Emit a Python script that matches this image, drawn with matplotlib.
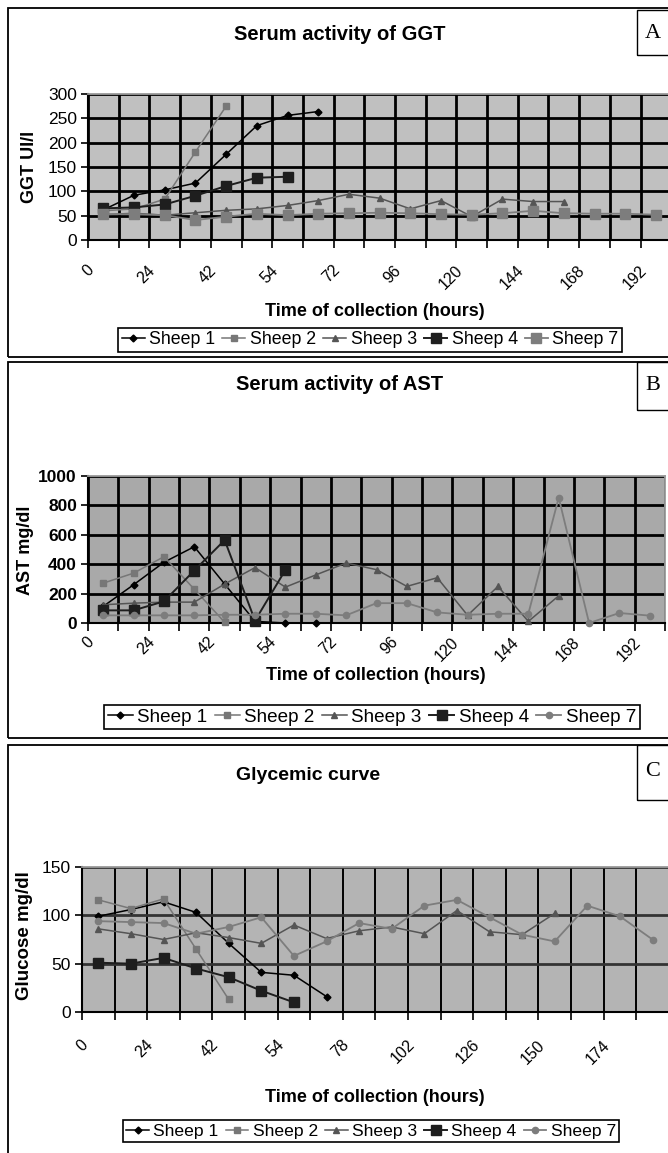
import numpy as np
import matplotlib.pyplot as plt
from matplotlib.patches import Rectangle

W, H = 668, 1153

# time of collection (hours), one per category of the x axis
hours_ab = [0, 12, 24, 36, 42, 48, 54, 60, 72, 84, 96, 108, 120, 132, 144, 156, 168, 180, 192]
hours_c = [0, 12, 24, 36, 42, 48, 54, 66, 78, 90, 102, 114, 126, 138, 150, 162, 174, 186]

sheep = ["Sheep 1", "Sheep 2", "Sheep 3", "Sheep 4", "Sheep 7"]

# GGT UI/l
ggt_s1 = [62, 92, 103, 117, 176, 235, 256, 264]
ggt_s2 = [60, 64, 84, 181, 275]
ggt_s3 = [52, 55, 51, 56, 61, 64, 71, 81, 94, 86, 64, 81, 48, 84, 79, 79]
ggt_s4 = [65, 67, 73, 91, 111, 128, 130]
ggt_s7 = [53, 53, 51, 41, 48, 54, 51, 54, 55, 56, 55, 53, 52, 55, 60, 55, 54, 54, 52]

# AST mg/dl
ast_s1 = [113, 260, 413, 519, 265, 11, 0, 0]
ast_s2 = [271, 339, 451, 230, 5]
ast_s3 = [124, 135, 142, 142, 265, 377, 244, 327, 408, 363, 249, 308, 52, 249, 11, 185]
ast_s4 = [86, 86, 147, 357, 564, 16, 361]
ast_s7 = [52, 52, 52, 52, 56, 56, 63, 63, 52, 135, 135, 72, 56, 63, 63, 853, 0, 68, 50]

# glucose mg/dl
glu_s1 = [99, 106, 114, 103, 71, 41, 38, 16]
glu_s2 = [116, 107, 117, 65, 13]
glu_s3 = [86, 81, 75, 82, 77, 71, 90, 76, 84, 88, 81, 105, 83, 80, 102]
glu_s4 = [51, 50, 56, 45, 36, 22, 10]
glu_s7 = [94, 93, 92, 81, 88, 98, 58, 73, 92, 86, 110, 116, 98, 80, 73, 110, 99, 75]

plt.rcParams['font.family'] = ['Liberation Sans', 'DejaVu Sans']

fig = plt.figure(figsize=(W / 100, H / 100), dpi=100)


def px_axes(x0, y0, x1, y1):
    return fig.add_axes([x0 / W, 1 - y1 / H, (x1 - x0) / W, (y1 - y0) / H])


def px_text(x, y, s, **kw):
    fig.text(x / W, 1 - y / H, s, ha='center', va='center', **kw)


def px_box(x0, y0, x1, y1, lw=1.3):
    fig.add_artist(Rectangle((x0 / W, 1 - y1 / H), (x1 - x0) / W, (y1 - y0) / H,
                             transform=fig.transFigure, fill=False, ec='black', lw=lw))


def px_legend(ax, cx, cy, size):
    h, l = ax.get_legend_handles_labels()
    leg = fig.legend(h, l, loc='center', bbox_to_anchor=(cx / W, 1 - cy / H), ncol=5,
                     fancybox=False, edgecolor='black', framealpha=1, handlelength=1.3,
                     handletextpad=0.25, columnspacing=0.4, borderpad=0.2,
                     fontsize=size)
    leg.get_frame().set_linewidth(1.2)


def styles(s7_marker, s7_ms):
    return [
        dict(color='black', marker='D', ms=3.5, lw=1.1),
        dict(color='#777777', marker='s', ms=4, lw=1.1),
        dict(color='#555555', marker='^', ms=5, lw=1.1),
        dict(color='#1e1e1e', marker='s', ms=7, lw=1.4),
        dict(color='#7d7d7d', marker=s7_marker, ms=s7_ms, lw=1.3),
    ]


def panel(box, hours, series, st, ymax, ystep, bg, ybold, hgrid, vgrid, lpad):
    ax = px_axes(*box)
    n = len(hours)
    ax.set_facecolor(bg)
    for name, vals, s in zip(sheep, series, st):
        ax.plot(range(len(vals)), vals, label=name, zorder=3, clip_on=False, **s)
    ax.set_xlim(-0.5, n - 0.5)
    ax.set_ylim(0, ymax)
    ax.set_yticks(np.arange(0, ymax + 1, ystep))
    ax.set_xticks(np.arange(n + 1) - 0.5)
    ax.set_xticklabels([])
    ax.set_xticks(np.arange(0, n, 2) - 0.38, minor=True)
    ax.set_xticklabels([str(h) for h in hours[::2]], minor=True, rotation=45,
                       ha='right', va='center', rotation_mode='anchor', fontsize=11.5)
    ax.tick_params(axis='x', which='major', length=6, width=1.2, direction='out')
    ax.tick_params(axis='x', which='minor', length=0, pad=lpad)
    ax.tick_params(axis='y', length=5, width=1.2, direction='out', pad=3,
                   labelsize=12.5)
    for lab in ax.get_yticklabels():
        lab.set_fontweight('bold' if ybold else 'normal')
    ax.set_axisbelow(True)
    ax.xaxis.grid(True, which='major', color='black', lw=vgrid)
    ax.yaxis.grid(True, color=hgrid[0], lw=hgrid[1])
    for side in ['left', 'bottom']:
        ax.spines[side].set_color('black')
        ax.spines[side].set_linewidth(1.5)
    for side in ['top', 'right']:
        ax.spines[side].set_color('#9a9a9a')
        ax.spines[side].set_linewidth(1.3)
    return ax


# ---- panel A
px_box(8, 8, 690, 357)
px_box(637, 10, 690, 55, lw=1.0)
px_text(653, 33, "A", fontsize=16, family='Liberation Serif')
px_text(340, 34, "Serum activity of GGT", fontsize=14.5, fontweight='bold')
axA = panel((88, 94, 88 + 19 * 30.7, 240), hours_ab,
            [ggt_s1, ggt_s2, ggt_s3, ggt_s4, ggt_s7], styles('s', 7),
            300, 50, '#c0c0c0', False, ('black', 2), 2, 20)
px_text(29, 167, "GGT UI/l", fontsize=13, fontweight='bold', rotation=90)
px_text(375, 311, "Time of collection (hours)", fontsize=13, fontweight='bold')
px_legend(axA, 370, 340, 12.8)

# ---- panel B
px_box(8, 362, 690, 738)
px_box(637, 362, 690, 410, lw=1.0)
px_text(653, 385, "B", fontsize=16, family='Liberation Serif')
px_text(340, 384, "Serum activity of AST", fontsize=14.5, fontweight='bold')
axB = panel((88, 476, 665, 623), hours_ab,
            [ast_s1, ast_s2, ast_s3, ast_s4, ast_s7], styles('o', 4.5),
            1000, 200, '#a9a9a9', True, ('black', 2), 2, 12)
px_text(26, 550, "AST mg/dl", fontsize=13, fontweight='bold', rotation=90)
px_text(376, 676, "Time of collection (hours)", fontsize=13, fontweight='bold')
px_legend(axB, 372, 717, 13.6)

# ---- panel C
px_box(8, 745, 690, 1170)
px_box(637, 745, 690, 800, lw=1.0)
px_text(653, 772, "C", fontsize=16, family='Liberation Serif')
px_text(308, 775, "Glycemic curve", fontsize=14, fontweight='bold')
axC = panel((82, 867, 82 + 18 * 32.6, 1012), hours_c,
            [glu_s1, glu_s2, glu_s3, glu_s4, glu_s7], styles('o', 4.5),
            150, 50, '#b4b4b4', False, ('#333333', 2), 1.4, 22)
px_text(25, 936, "Glucose mg/dl", fontsize=13.5, fontweight='bold', rotation=90)
px_text(375, 1097, "Time of collection (hours)", fontsize=13, fontweight='bold')
px_legend(axC, 371, 1131, 12.6)

fig.savefig("out.png", dpi=100)
